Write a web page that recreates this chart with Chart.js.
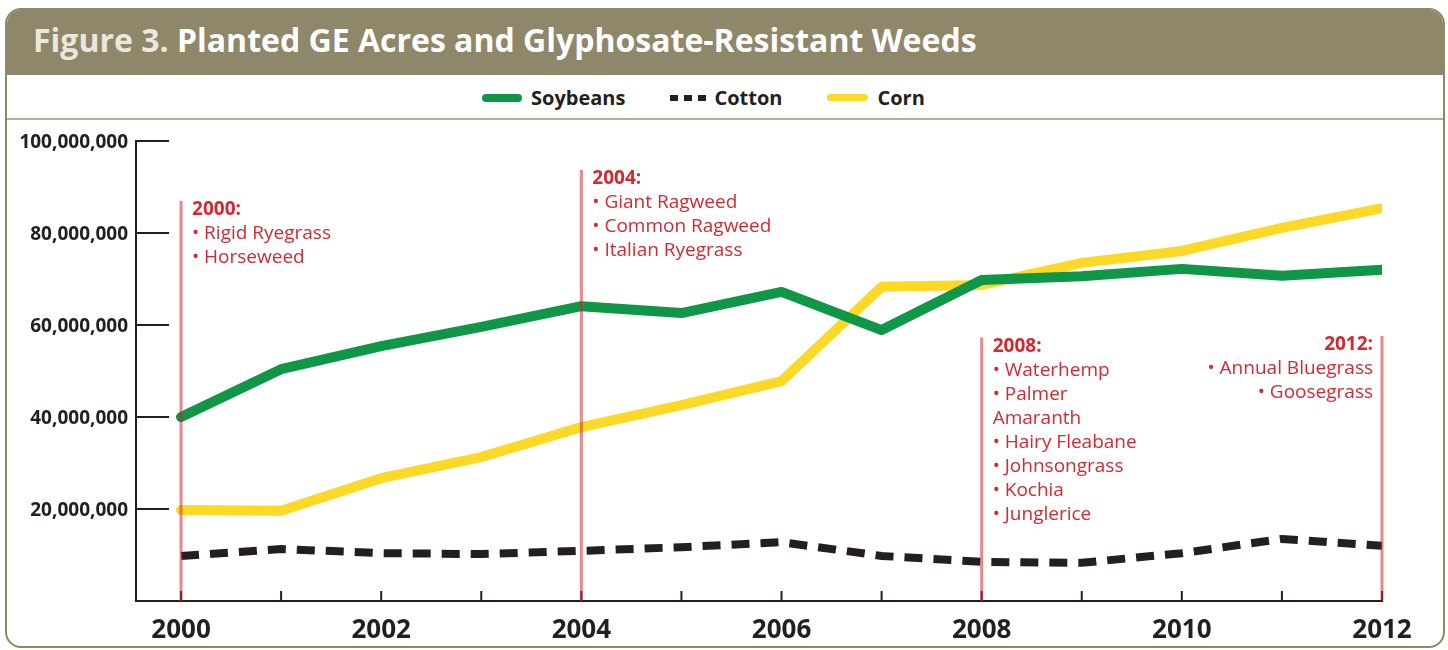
<!DOCTYPE html>
<html>
<head>
<meta charset="utf-8">
<script src="https://cdn.jsdelivr.net/npm/chart.js@4.4.1/dist/chart.umd.min.js"></script>
<style>
  html, body { margin: 0; padding: 0; background: #fff; }
  body { width: 1448px; height: 650px; position: relative; overflow: hidden; font-family: 'Open Sans', sans-serif; }
  #frame { position: absolute; left: 5px; top: 8px; width: 1436px; height: 636px; border: 2px solid #8f876a; border-radius: 16px; overflow: hidden; }
  #header { height: 65px; background: #8f876a; color: #fff; font-weight: 700; font-size: 32px; line-height: 59px; padding-left: 26px; white-space: nowrap; }
  #header .fig { color: #ebe7de; }
  #legend { position: absolute; left: 0; top: 65px; width: 100%; height: 43px; border-bottom: 2px solid #b3ae9c; }
  #legend .items { position: absolute; left: 475px; top: 1px; height: 43px; display: flex; align-items: center; }
  #legend .item { display: flex; align-items: center; margin-right: 45px; font-weight: 700; font-size: 20px; color: #231f20; }
  #legend .bar { display: inline-block; width: 40px; height: 8px; border-radius: 4px; margin-right: 9px; }
  #legend .dash { display: inline-block; width: 8px; height: 6px; background: #231f20; margin-right: 6px; }
  #legend .dash:last-of-type { margin-right: 8px; }
  #wrap { position: absolute; left: 0; top: 0; width: 1448px; height: 650px; z-index: 2; pointer-events: none; }
</style>
</head>
<body>
<div id="frame">
  <div id="header"><span class="fig">Figure 3.</span> Planted GE Acres and Glyphosate-Resistant Weeds</div>
  <div id="legend">
    <div class="items">
      <div class="item"><span class="bar" style="background:#0f9647"></span>Soybeans</div>
      <div class="item"><span class="dash"></span><span class="dash"></span><span class="dash"></span>Cotton</div>
      <div class="item"><span class="bar" style="background:#fcd827;width:41px;height:7px"></span>Corn</div>
    </div>
  </div>
</div>
<div id="wrap"><canvas id="chart"></canvas></div>
<script>
const years = [2000, 2001, 2002, 2003, 2004, 2005, 2006, 2007, 2008, 2009, 2010, 2011, 2012];
const soybeans = [40000000, 50400000, 55400000, 59600000, 64100000, 62600000, 67200000, 58900000, 69800000, 70600000, 72200000, 70700000, 72000000];
const cotton = [9800000, 11300000, 10400000, 10200000, 10900000, 11700000, 12800000, 9800000, 8500000, 8300000, 10400000, 13500000, 12000000];
const corn = [19800000, 19600000, 26700000, 31300000, 37800000, 42600000, 47800000, 68300000, 68700000, 73500000, 76100000, 81100000, 85400000];

// glyphosate-resistant weeds, by year first found
const weedYears = [2000, 2004, 2008, 2012];
const weedLines = [
    ['• Rigid Ryegrass', '• Horseweed'],
    ['• Giant Ragweed', '• Common Ragweed', '• Italian Ryegrass'],
    ['• Waterhemp', '• Palmer', 'Amaranth', '• Hairy Fleabane', '• Johnsongrass', '• Kochia', '• Junglerice'],
    ['• Annual Bluegrass', '• Goosegrass'],
];

const INK = '#231f20';
const RED = '#d7282f';

const points = (vals) => years.map((x, i) => ({ x, y: vals[i] }));

// ── Tick marks drawn inside the axes ──────────────────────────────────────
const tickMarks = {
    id: 'tickMarks',
    beforeDatasetsDraw(chart) {
        const { ctx, scales: { x, y } } = chart;
        ctx.save();
        ctx.strokeStyle = INK;
        ctx.lineWidth = 2;
        ctx.beginPath();
        for (const t of y.ticks) {
            if (t.value === 0) continue;
            const py = y.getPixelForValue(t.value);
            ctx.moveTo(x.left, py);
            ctx.lineTo(x.left + 33, py);
        }
        for (const t of x.ticks) {
            const px = x.getPixelForValue(t.value);
            ctx.moveTo(px, y.bottom);
            ctx.lineTo(px, y.bottom - 10);
        }
        ctx.stroke();
        ctx.restore();
    },
};

// ── Red weed markers ──────────────────────────────────────────────────────
const weedNotes = {
    id: 'weedNotes',
    afterDatasetsDraw(chart, args, opts) {
        const { ctx, scales: { x, y } } = chart;
        ctx.save();
        weedYears.forEach((yr, i) => {
            const px = x.getPixelForValue(yr);
            const top = y.getPixelForValue(opts.tops[i]);
            ctx.strokeStyle = 'rgba(217,35,46,0.55)';
            ctx.lineWidth = 3;
            ctx.beginPath();
            ctx.moveTo(px, top);
            ctx.lineTo(px, y.bottom);
            ctx.stroke();

            const right = i === weedYears.length - 1;
            const tx = right ? px - 9 : px + 11;
            ctx.textAlign = right ? 'right' : 'left';
            ctx.textBaseline = 'middle';
            ctx.fillStyle = RED;
            ctx.font = '700 19px "Open Sans"';
            ctx.fillText(yr + ':', tx, top + 9);
            ctx.font = '400 19px "Open Sans"';
            weedLines[i].forEach((line, j) => {
                ctx.fillText(line, tx, top + 9 + 24 * (j + 1));
            });
        });
        ctx.restore();
    },
};

new Chart(document.getElementById('chart'), {
    type: 'line',
    data: {
        datasets: [
            {
                label: 'Soybeans',
                data: points(soybeans),
                borderColor: '#0f9647',
                borderWidth: 10,
                borderCapStyle: 'round',
                borderJoinStyle: 'round',
                pointRadius: 0,
                tension: 0,
            },
            {
                label: 'Cotton',
                data: points(cotton),
                borderColor: INK,
                borderWidth: 8,
                borderDash: [18, 11],
                pointRadius: 0,
                tension: 0,
            },
            {
                label: 'Corn',
                data: points(corn),
                borderColor: '#fcd827',
                borderWidth: 10,
                borderCapStyle: 'round',
                borderJoinStyle: 'round',
                pointRadius: 0,
                tension: 0,
            },
        ],
    },
    options: {
        responsive: true,
        maintainAspectRatio: false,
        animation: false,
        layout: { padding: { top: 141, right: 66, bottom: 0, left: 0 } },
        plugins: {
            legend: { display: false },
            tooltip: { enabled: false },
            weedNotes: { tops: [87000000, 93700000, 57300000, 57600000] },
        },
        scales: {
            x: {
                type: 'linear',
                min: 1999.55,
                max: 2012,
                afterBuildTicks: (axis) => {
                    axis.ticks = years.map((v) => ({ value: v }));
                },
                afterFit: (axis) => { axis.height = 49; },
                grid: { display: false, drawTicks: false },
                border: { display: true, color: INK, width: 2 },
                ticks: {
                    autoSkip: false,
                    maxRotation: 0,
                    padding: 14,
                    color: INK,
                    font: { family: 'Open Sans', size: 26, weight: '700' },
                    callback: (v) => (v % 2 === 0 ? String(v) : ''),
                },
            },
            y: {
                min: 0,
                max: 100000000,
                afterFit: (axis) => { axis.width = 136; },
                grid: { display: false, drawTicks: false },
                border: { display: true, color: INK, width: 2 },
                ticks: {
                    stepSize: 20000000,
                    padding: 8,
                    labelOffset: 2,
                    color: INK,
                    font: { family: 'Open Sans', size: 19, weight: '700' },
                    callback: (v) => (v === 0 ? '' : v.toLocaleString('en-US')),
                },
            },
        },
    },
    plugins: [tickMarks, weedNotes],
});
</script>
</body>
</html>
